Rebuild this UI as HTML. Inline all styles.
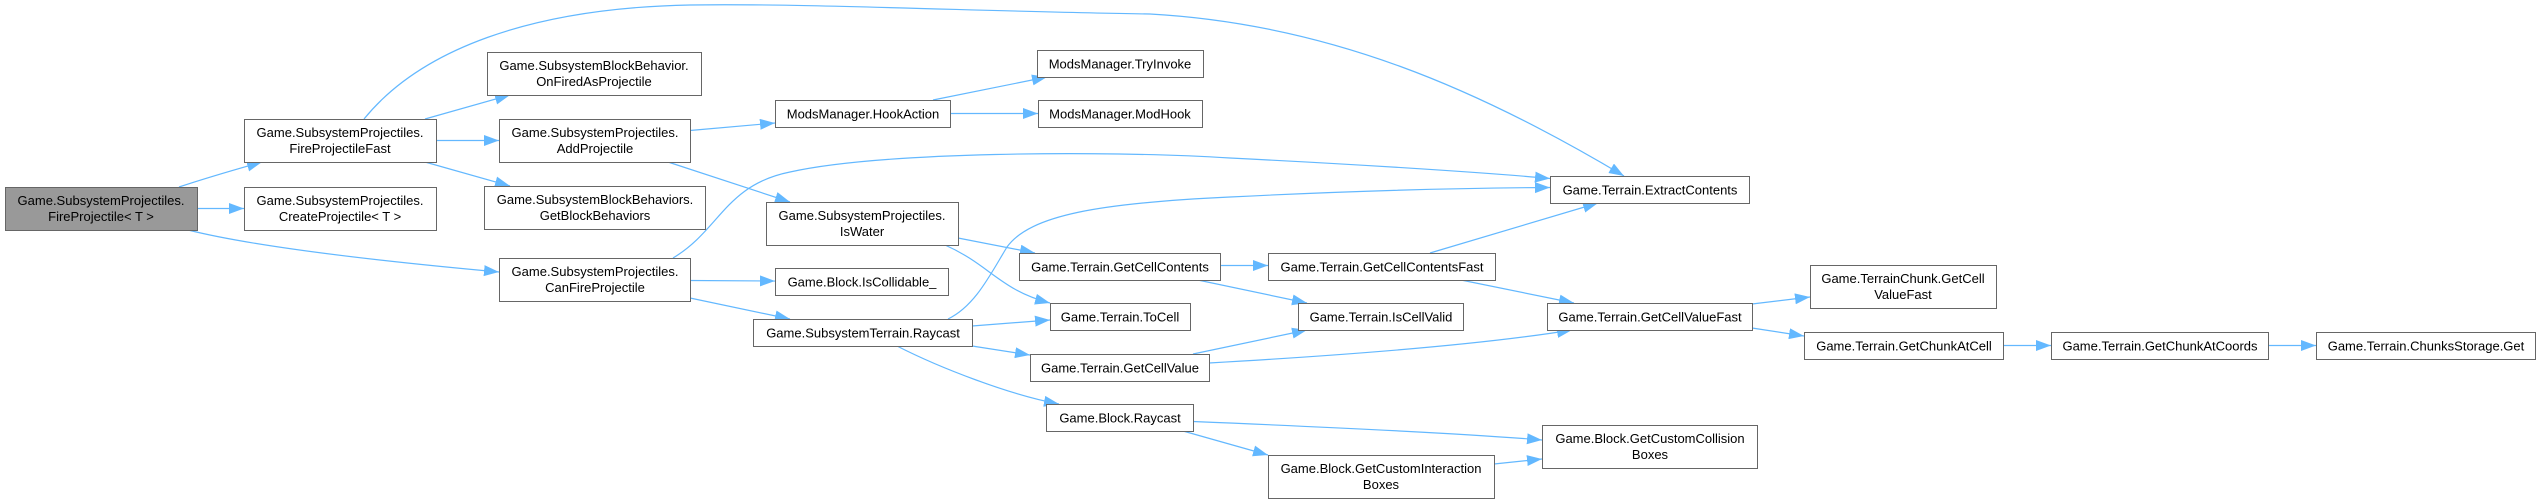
<!DOCTYPE html>
<html><head><meta charset="utf-8"><style>
html,body{margin:0;padding:0;background:#fff;}
svg{display:block;}
text{font-family:"Liberation Sans",Arial,sans-serif;font-size:13px;fill:#000;text-anchor:middle;}
.n{fill:#fff;stroke:#666;stroke-width:1;}
.r{fill:#999;stroke:#666;stroke-width:1;}
.e{fill:none;stroke:#63b8ff;stroke-width:1.2;}
</style></head><body>
<svg width="2540" height="503" viewBox="0 0 2540 503" xmlns="http://www.w3.org/2000/svg">
<defs>
<marker id="a" markerUnits="userSpaceOnUse" markerWidth="16" markerHeight="12" refX="15" refY="5.5" orient="auto">
<path d="M0,0 L15,5.5 L0,11 z" fill="#63b8ff"/>
</marker>
</defs>
<g>
<path class="e" marker-end="url(#a)" d="M179,187 C200,180 230,171 262,162"/>
<path class="e" marker-end="url(#a)" d="M197,208.5 L244,208.5"/>
<path class="e" marker-end="url(#a)" d="M188,230 C260,248 400,263 499,272"/>
<path class="e" marker-end="url(#a)" d="M364,119 C420,50 530,8 690,5 C800,3 1000,12 1150,14 C1330,24 1480,90 1624,176"/>
<path class="e" marker-end="url(#a)" d="M425,119 L510,95"/>
<path class="e" marker-end="url(#a)" d="M436,140.5 L499,140.5"/>
<path class="e" marker-end="url(#a)" d="M425,162 L510,186"/>
<path class="e" marker-end="url(#a)" d="M690,130.5 L775,123"/>
<path class="e" marker-end="url(#a)" d="M668,162 L790,202"/>
<path class="e" marker-end="url(#a)" d="M933,100 L1047,77"/>
<path class="e" marker-end="url(#a)" d="M950,113.5 L1038,113.5"/>
<path class="e" marker-end="url(#a)" d="M673,258 C720,230 725,185 790,172 C880,152 1100,150 1230,158 C1350,164 1480,172 1550,178.5"/>
<path class="e" marker-end="url(#a)" d="M690,280.5 L775,281"/>
<path class="e" marker-end="url(#a)" d="M690,298 L790,319"/>
<path class="e" marker-end="url(#a)" d="M958,238 L1035,253"/>
<path class="e" marker-end="url(#a)" d="M945,245 C990,265 1000,290 1050,303"/>
<path class="e" marker-end="url(#a)" d="M948,319 C975,306 990,275 1007,247 C1030,215 1100,203 1230,197 C1330,192 1450,188 1550,187.5"/>
<path class="e" marker-end="url(#a)" d="M972,326 L1050,320"/>
<path class="e" marker-end="url(#a)" d="M972,346 L1030,355"/>
<path class="e" marker-end="url(#a)" d="M897,346 C940,368 1010,395 1059,404"/>
<path class="e" marker-end="url(#a)" d="M1220,265.5 L1268,265.5"/>
<path class="e" marker-end="url(#a)" d="M1193,279 L1307,303"/>
<path class="e" marker-end="url(#a)" d="M1193,354 L1307,330"/>
<path class="e" marker-end="url(#a)" d="M1209,363 C1350,355 1480,345 1572,330"/>
<path class="e" marker-end="url(#a)" d="M1430,253 L1598,203"/>
<path class="e" marker-end="url(#a)" d="M1456,279 L1574,303"/>
<path class="e" marker-end="url(#a)" d="M1752,304 L1810,297"/>
<path class="e" marker-end="url(#a)" d="M1752,328 L1804,336"/>
<path class="e" marker-end="url(#a)" d="M2003,345.5 L2051,345.5"/>
<path class="e" marker-end="url(#a)" d="M2268,345.5 L2316,345.5"/>
<path class="e" marker-end="url(#a)" d="M1193,421.5 C1350,428 1470,434 1542,440"/>
<path class="e" marker-end="url(#a)" d="M1183,431 L1268,455"/>
<path class="e" marker-end="url(#a)" d="M1494,464 L1542,459"/>
</g>

<rect class="r" x="5.5" y="187.5" width="192" height="43"/>
<text x="101" y="205">Game.SubsystemProjectiles.</text>
<text x="101" y="221">FireProjectile&lt; T &gt;</text>

<rect class="n" x="244.5" y="119.5" width="192" height="43"/>
<text x="340" y="137">Game.SubsystemProjectiles.</text>
<text x="340" y="153">FireProjectileFast</text>

<rect class="n" x="244.5" y="187.5" width="192" height="43"/>
<text x="340" y="205">Game.SubsystemProjectiles.</text>
<text x="340" y="221">CreateProjectile&lt; T &gt;</text>

<rect class="n" x="499.5" y="258.5" width="191" height="43"/>
<text x="595" y="276">Game.SubsystemProjectiles.</text>
<text x="595" y="292">CanFireProjectile</text>

<rect class="n" x="487.5" y="52.5" width="214" height="43"/>
<text x="594" y="70">Game.SubsystemBlockBehavior.</text>
<text x="594" y="86">OnFiredAsProjectile</text>

<rect class="n" x="499.5" y="119.5" width="191" height="43"/>
<text x="595" y="137">Game.SubsystemProjectiles.</text>
<text x="595" y="153">AddProjectile</text>

<rect class="n" x="484.5" y="186.5" width="221" height="43"/>
<text x="595" y="204">Game.SubsystemBlockBehaviors.</text>
<text x="595" y="220">GetBlockBehaviors</text>

<rect class="n" x="775.5" y="100.5" width="175" height="27"/>
<text x="863" y="118.5">ModsManager.HookAction</text>

<rect class="n" x="1037.5" y="50.5" width="166" height="27"/>
<text x="1120" y="68.5">ModsManager.TryInvoke</text>

<rect class="n" x="1038.5" y="100.5" width="164" height="27"/>
<text x="1120" y="118.5">ModsManager.ModHook</text>

<rect class="n" x="766.5" y="202.5" width="192" height="43"/>
<text x="862" y="220">Game.SubsystemProjectiles.</text>
<text x="862" y="236">IsWater</text>

<rect class="n" x="775.5" y="268.5" width="173" height="27"/>
<text x="862" y="286.5">Game.Block.IsCollidable_</text>

<rect class="n" x="753.5" y="319.5" width="219" height="27"/>
<text x="863" y="337.5">Game.SubsystemTerrain.Raycast</text>

<rect class="n" x="1019.5" y="253.5" width="201" height="27"/>
<text x="1120" y="271.5">Game.Terrain.GetCellContents</text>

<rect class="n" x="1050.5" y="303.5" width="140" height="27"/>
<text x="1120" y="321.5">Game.Terrain.ToCell</text>

<rect class="n" x="1030.5" y="354.5" width="179" height="27"/>
<text x="1120" y="372.5">Game.Terrain.GetCellValue</text>

<rect class="n" x="1046.5" y="404.5" width="147" height="27"/>
<text x="1120" y="422.5">Game.Block.Raycast</text>

<rect class="n" x="1550.5" y="176.5" width="199" height="27"/>
<text x="1650" y="194.5">Game.Terrain.ExtractContents</text>

<rect class="n" x="1268.5" y="253.5" width="227" height="27"/>
<text x="1382" y="271.5">Game.Terrain.GetCellContentsFast</text>

<rect class="n" x="1298.5" y="303.5" width="165" height="27"/>
<text x="1381" y="321.5">Game.Terrain.IsCellValid</text>

<rect class="n" x="1547.5" y="303.5" width="205" height="27"/>
<text x="1650" y="321.5">Game.Terrain.GetCellValueFast</text>

<rect class="n" x="1542.5" y="425.5" width="215" height="43"/>
<text x="1650" y="443">Game.Block.GetCustomCollision</text>
<text x="1650" y="459">Boxes</text>

<rect class="n" x="1268.5" y="455.5" width="226" height="43"/>
<text x="1381" y="473">Game.Block.GetCustomInteraction</text>
<text x="1381" y="489">Boxes</text>

<rect class="n" x="1810.5" y="265.5" width="186" height="43"/>
<text x="1903" y="283">Game.TerrainChunk.GetCell</text>
<text x="1903" y="299">ValueFast</text>

<rect class="n" x="1804.5" y="332.5" width="199" height="27"/>
<text x="1904" y="350.5">Game.Terrain.GetChunkAtCell</text>

<rect class="n" x="2051.5" y="332.5" width="217" height="27"/>
<text x="2160" y="350.5">Game.Terrain.GetChunkAtCoords</text>

<rect class="n" x="2316.5" y="332.5" width="219" height="27"/>
<text x="2426" y="350.5">Game.Terrain.ChunksStorage.Get</text>
</svg>
</body></html>
